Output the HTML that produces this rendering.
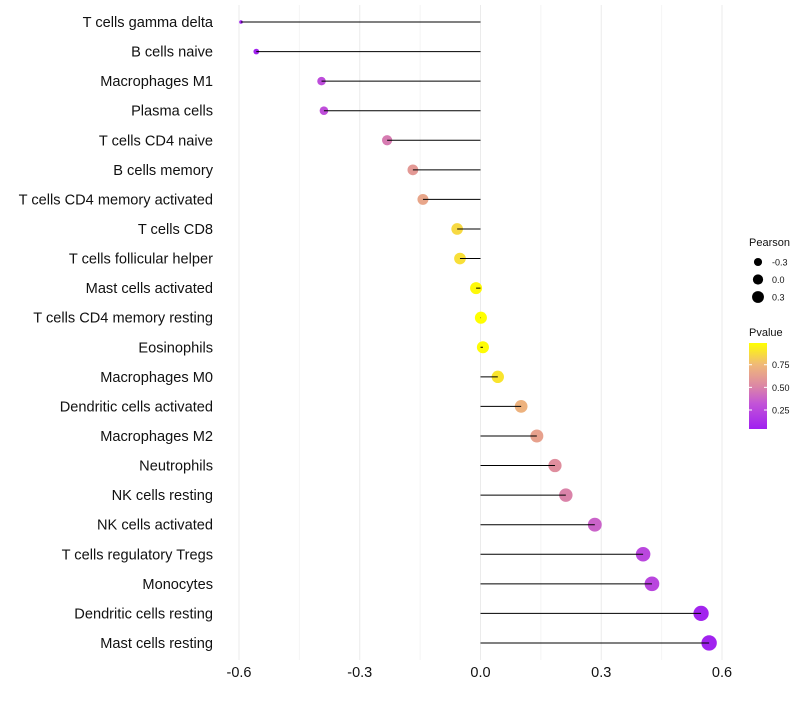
<!DOCTYPE html>
<html><head><meta charset="utf-8"><style>
body{margin:0;background:#fff}
svg text{font-family:"Liberation Sans",sans-serif}
</style></head><body>
<svg id="c" width="800" height="700"></svg>
<script>
const categories=["T cells gamma delta","B cells naive","Macrophages M1","Plasma cells","T cells CD4 naive","B cells memory","T cells CD4 memory activated","T cells CD8","T cells follicular helper","Mast cells activated","T cells CD4 memory resting","Eosinophils","Macrophages M0","Dendritic cells activated","Macrophages M2","Neutrophils","NK cells resting","NK cells activated","T cells regulatory  Tregs","Monocytes","Dendritic cells resting","Mast cells resting"];
const pearson=[-0.595,-0.557,-0.395,-0.389,-0.232,-0.168,-0.143,-0.058,-0.051,-0.011,0.001,0.006,0.043,0.101,0.14,0.185,0.212,0.284,0.404,0.426,0.548,0.568];
const pvalue=[0.04,0.05,0.28,0.29,0.47,0.6,0.66,0.86,0.88,0.97,0.99,0.98,0.9,0.72,0.64,0.55,0.5,0.38,0.25,0.24,0.06,0.05];
const xTicks=[-0.6,-0.3,0,0.3,0.6];
const xMinor=[-0.45,-0.15,0.15,0.45];
const sizeLegend=[-0.3,0,0.3];
const pTicks=[0.25,0.5,0.75];

const NS="http://www.w3.org/2000/svg";
const svg=document.getElementById('c');
const x=v=>480.5+v*402.5;
const y=i=>22+i*29.57;
const rad=v=>1.8+5.9*Math.sqrt(Math.max(0,(v+0.595)/1.163));
function mk(t,a,p){const e=document.createElementNS(NS,t);for(const k in a)e.setAttribute(k,a[k]);(p||svg).appendChild(e);return e;}
function lerp(a,b,t){return a.map((v,i)=>Math.round(v+(b[i]-v)*t));}
const stops=[[0,[160,32,240]],[0.3,[195,85,215]],[0.5,[220,135,165]],[0.75,[240,185,120]],[1,[255,255,0]]];
function col(p){const t=Math.min(1,Math.max(0,(p-0.04)/0.95));for(let i=1;i<stops.length;i++){if(t<=stops[i][0]){const f=(t-stops[i-1][0])/(stops[i][0]-stops[i-1][0]);const c=lerp(stops[i-1][1],stops[i][1],f);return `rgb(${c})`;}}return 'rgb(255,255,0)';}

xMinor.forEach(v=>{const l=mk('line',{x1:x(v),x2:x(v),y1:5,y2:660,stroke:'#f4f4f4','stroke-width':1});

});
xTicks.forEach(v=>{const l=mk('line',{x1:x(v),x2:x(v),y1:5,y2:660,stroke:'#ebebeb','stroke-width':1});


const t=mk('text',{x:x(v),y:677,'text-anchor':'middle','font-size':14.5,fill:'#111'});t.textContent=v===0?'0.0':v.toFixed(1);

});

categories.forEach((c,i)=>{
const t=mk('text',{x:213,y:y(i)+5,'text-anchor':'end','font-size':14.6,fill:'#111'});t.textContent=c;


const d=mk('circle',{cx:x(pearson[i]),cy:y(i),r:rad(pearson[i]),fill:col(pvalue[i])});


const l=mk('line',{x1:x(0),x2:x(pearson[i]),y1:y(i),y2:y(i),stroke:'#000','stroke-width':1});


});

const lt=mk('text',{x:749,y:246,'font-size':11,fill:'#111'});lt.textContent='Pearson';


sizeLegend.forEach((v,i)=>{const cy=262+i*17.5;
const d=mk('circle',{cx:758,cy:cy,r:rad(v)*0.85,fill:'#000'});


const t=mk('text',{x:772,y:cy+3.5,'font-size':9,fill:'#111'});t.textContent=v===0?'0.0':v.toFixed(1);

});

const pt=mk('text',{x:749,y:336,'font-size':11,fill:'#111'});pt.textContent='Pvalue';


const defs=mk('defs',{});const g=mk('linearGradient',{id:'pg',x1:0,y1:1,x2:0,y2:0},defs);
stops.forEach(s=>mk('stop',{offset:s[0],'stop-color':`rgb(${s[1]})`},g));
const bar=mk('rect',{x:749,y:343,width:18,height:86,fill:'url(#pg)'});


const py=p=>429-(p-0.04)/0.95*86;
pTicks.forEach(p=>{mk('line',{x1:749,x2:752,y1:py(p),y2:py(p),stroke:'#fff'});mk('line',{x1:764,x2:767,y1:py(p),y2:py(p),stroke:'#fff'});
const t=mk('text',{x:772,y:py(p)+3.5,'font-size':9,fill:'#111'});t.textContent=p.toFixed(2);

});
</script>
</body></html>
